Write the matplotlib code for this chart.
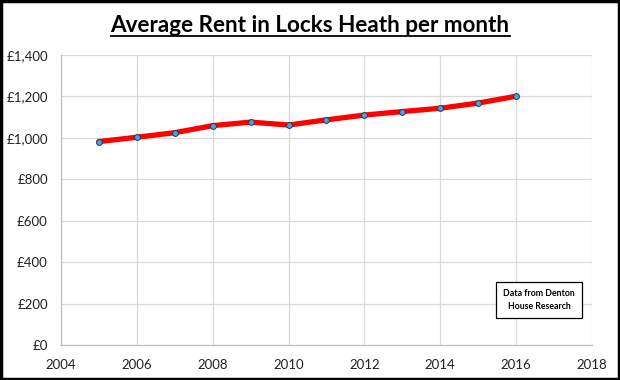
#!/usr/bin/env python3
"""Average rent in Locks Heath line chart."""

import matplotlib
matplotlib.use("Agg")
import matplotlib.pyplot as plt
from matplotlib.lines import Line2D
from matplotlib.patches import Rectangle
from matplotlib.ticker import FuncFormatter

years = [2005, 2006, 2007, 2008, 2009, 2010, 2011, 2012, 2013, 2014, 2015, 2016]
rent = [982, 1003, 1025, 1059, 1076, 1062, 1087, 1110, 1127, 1143, 1168, 1201]
x_ticks = [2004, 2006, 2008, 2010, 2012, 2014, 2016, 2018]
y_ticks = [0, 200, 400, 600, 800, 1000, 1200, 1400]

plt.rcParams["font.family"] = ["Lato", "DejaVu Sans"]

fig = plt.figure(figsize=(6.2, 3.8), dpi=100)
ax = fig.add_axes([61 / 620, 1 - 345 / 380, 531 / 620, 290 / 380])

ax.plot(years, rent, color="#ff0000", linewidth=3.8, solid_capstyle="round", zorder=3)
ax.plot(years, rent, linestyle="none", marker="o", markersize=4.2,
        markerfacecolor="#5b9bd5", markeredgecolor="#1f3a5a", markeredgewidth=0.7, zorder=4)

ax.set_xlim(2004, 2018)
ax.set_ylim(0, 1400)
ax.set_xticks(x_ticks)
ax.set_yticks(y_ticks)
ax.yaxis.set_major_formatter(FuncFormatter(lambda v, _: f"£{int(v):,}"))
ax.tick_params(length=0, labelsize=9.5, colors="#222222")
ax.tick_params(axis="y", pad=9.5)
ax.tick_params(axis="x", pad=10)
ax.grid(color="#d9d9d9", linewidth=0.9)
ax.set_axisbelow(True)
for side in ("top", "right"):
    ax.spines[side].set_visible(False)
for side in ("left", "bottom"):
    ax.spines[side].set_color("#bfbfbf")
    ax.spines[side].set_linewidth(0.9)

# source note box
note_box = Rectangle((496 / 620, 1 - 318 / 380), 86 / 620, 36 / 380, transform=fig.transFigure,
                     facecolor="white", edgecolor="black", linewidth=0.9, zorder=5)
fig.add_artist(note_box)
fig.text(539 / 620, 1 - 300 / 380, "Data from Denton\nHouse Research",
         ha="center", va="center", fontsize=6.3, fontweight="bold", linespacing=1.5, zorder=6)

title = fig.text(0.5, 1 - 25 / 380, "Average Rent in Locks Heath per month",
                 ha="center", va="center", fontsize=16.2, fontweight="bold")

# underline the title
fig.canvas.draw()
bb = title.get_window_extent().transformed(fig.transFigure.inverted())
fig.add_artist(Line2D([bb.x0, bb.x1], [1 - 36 / 380] * 2, color="black",
                      linewidth=1.3, transform=fig.transFigure))

# outer frame
fig.add_artist(Rectangle((0.002, 0.003), 0.996, 0.994, transform=fig.transFigure,
                         fill=False, edgecolor="black", linewidth=2.5))

fig.savefig("out.png", dpi=100)
